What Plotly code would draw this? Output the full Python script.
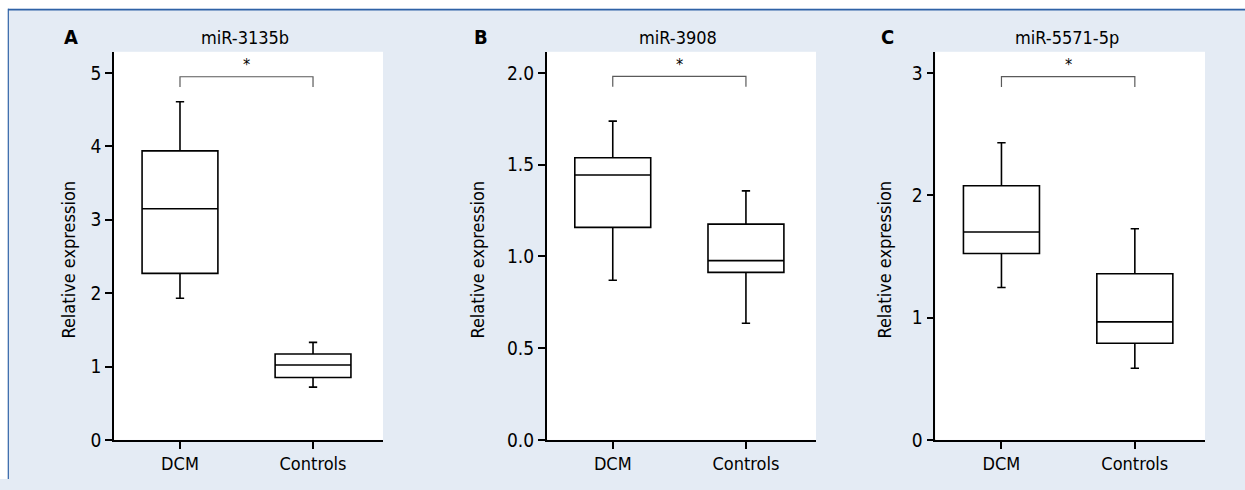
import plotly.graph_objects as go

# ---------------- data ----------------
categories = ["DCM", "Controls"]
panel_letters = ["A", "B", "C"]
panel_titles = ["miR-3135b", "miR-3908", "miR-5571-5p"]

# box statistics per panel: [DCM, Controls]
lower_fence = [[1.93, 0.72], [0.870, 0.636], [1.247, 0.586]]
q1_vals     = [[2.27, 0.85], [1.158, 0.913], [1.524, 0.791]]
medians     = [[3.15, 1.02], [1.444, 0.977], [1.700, 0.965]]
q3_vals     = [[3.94, 1.17], [1.538, 1.176], [2.078, 1.359]]
upper_fence = [[4.61, 1.33], [1.737, 1.357], [2.430, 1.727]]

# y-axis ticks and range tops
y_tickvals = [[0, 1, 2, 3, 4, 5], [0.0, 0.5, 1.0, 1.5, 2.0], [0, 1, 2, 3]]
y_ticktext = [["0", "1", "2", "3", "4", "5"], ["0.0", "0.5", "1.0", "1.5", "2.0"], ["0", "1", "2", "3"]]
y_top = [5.29, 2.115, 3.174]

# significance bracket (top of bracket, end of legs)
bracket_top = [4.95, 1.981, 2.971]
bracket_leg = [4.81, 1.924, 2.886]
sig_label = ["*", "*", "*"]

# ---------------- layout helpers ----------------
W, H = 1245, 490
FONT = "DejaVu Sans Condensed, Liberation Sans Narrow, Liberation Sans, Arial, sans-serif"
FS = 18
BG = "#e4ebf4"
BORDER = "#2f62a6"

plot_left_px = [114, 546.7, 935.3]
plot_right_px = [383, 816, 1205]
plot_top_px, plot_bottom_px = 53, 450
ytitle_x_px = [69, 478, 885]
letter_x_px = [70.5, 480.5, 887]
title_x_px = [245, 678, 1066.7]

def px_x(v):
    return v / W

def px_y(v):
    return (H - v) / H

fig = go.Figure()
annotations = []
shapes = []

for i in range(3):
    sfx = "" if i == 0 else str(i + 1)
    xa, ya = "x" + sfx, "y" + sfx
    fig.add_trace(go.Box(
        x=categories,
        q1=q1_vals[i], median=medians[i], q3=q3_vals[i],
        lowerfence=lower_fence[i], upperfence=upper_fence[i],
        boxpoints=False, width=0.57, whiskerwidth=0.11,
        fillcolor="white", line=dict(color="black", width=1.6),
        xaxis=xa, yaxis=ya, showlegend=False, hoverinfo="skip",
    ))
    # significance bracket
    fig.add_trace(go.Scatter(
        x=[categories[0], categories[0], categories[1], categories[1]],
        y=[bracket_leg[i], bracket_top[i], bracket_top[i], bracket_leg[i]],
        mode="lines", line=dict(color="#5a5a5a", width=1.2),
        xaxis=xa, yaxis=ya, showlegend=False, hoverinfo="skip",
    ))
    annotations.append(dict(
        x=0.5, y=bracket_top[i], xref=xa, yref=ya, text=sig_label[i],
        showarrow=False, yanchor="middle", yshift=12,
        font=dict(family=FONT, size=16, color="black"),
    ))
    axis_common = dict(
        showline=True, linecolor="black", linewidth=1.6,
        ticks="outside", ticklen=7, tickwidth=1.5, tickcolor="black",
        showgrid=False, zeroline=False,
    )
    fig.layout["xaxis" + sfx] = dict(
        axis_common,
        tickfont=dict(family=FONT, size=FS, color="black"),
        domain=[px_x(plot_left_px[i]), px_x(plot_right_px[i])],
        anchor=ya, type="category", range=[-0.496, 1.526],
        categoryorder="array", categoryarray=categories,
    )
    fig.layout["yaxis" + sfx] = dict(
        axis_common,
        tickfont=dict(family=FONT, size=19, color="black"),
        domain=[px_y(plot_bottom_px), px_y(plot_top_px)],
        anchor=xa, range=[0, y_top[i]],
        tickvals=y_tickvals[i], ticktext=y_ticktext[i],
    )
    # small downward extension of the y-axis line below the origin
    shapes.append(dict(
        type="line", xref=xa + " domain", yref=ya, x0=0, x1=0,
        ysizemode="pixel", yanchor=0, y0=0, y1=-6,
        line=dict(color="black", width=1.6), layer="above",
    ))
    annotations.append(dict(
        x=px_x(ytitle_x_px[i]), y=px_y(265.5), xref="paper", yref="paper",
        text="Relative expression", textangle=-90, showarrow=False,
        xanchor="center", yanchor="middle",
        font=dict(family=FONT, size=FS, color="black"),
    ))
    annotations.append(dict(
        x=px_x(title_x_px[i]), y=px_y(38), xref="paper", yref="paper",
        text=panel_titles[i], showarrow=False, xanchor="center", yanchor="middle",
        font=dict(family=FONT, size=FS, color="black"),
    ))
    annotations.append(dict(
        x=px_x(letter_x_px[i]), y=px_y(38), xref="paper", yref="paper",
        text="<b>" + panel_letters[i] + "</b>", showarrow=False,
        xanchor="center", yanchor="middle",
        font=dict(family=FONT, size=20, color="black"),
    ))

shapes += [
    dict(type="rect", xref="paper", yref="paper", x0=0, x1=1, y0=px_y(9), y1=1,
         fillcolor="white", line=dict(width=0), layer="above"),
    dict(type="rect", xref="paper", yref="paper", x0=0, x1=px_x(8), y0=0, y1=1,
         fillcolor="white", line=dict(width=0), layer="above"),
    dict(type="line", xref="paper", yref="paper", x0=px_x(8), x1=1, y0=px_y(9.8), y1=px_y(9.8),
         line=dict(color=BORDER, width=1.6), layer="above"),
    dict(type="line", xref="paper", yref="paper", x0=px_x(8.3), x1=px_x(8.3), y0=0, y1=px_y(9),
         line=dict(color=BORDER, width=1.2), layer="above"),
]

fig.update_layout(
    width=W, height=H, margin=dict(l=0, r=0, t=0, b=0), autosize=False,
    paper_bgcolor=BG, plot_bgcolor="white",
    annotations=annotations, shapes=shapes,
    font=dict(family=FONT, color="black"),
)

fig.write_html(
    "out.html",
    config={"responsive": False, "displayModeBar": False},
    post_script=(
        "document.body.style.margin='0px';document.body.style.padding='0px';"
        "document.documentElement.style.overflow='hidden';"
    ),
)
